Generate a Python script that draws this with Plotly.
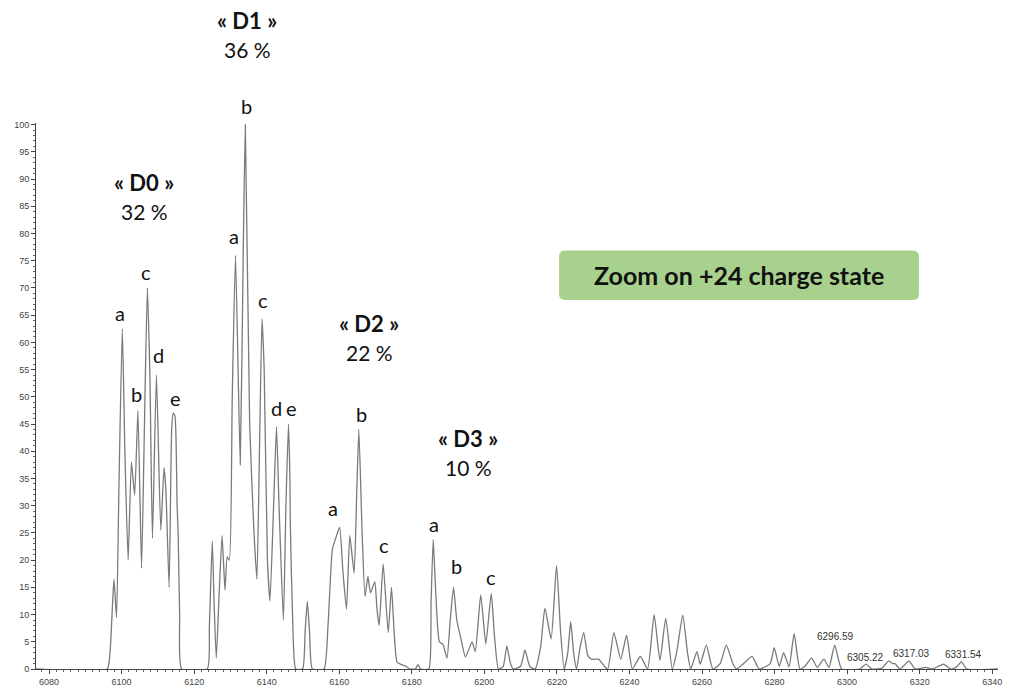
import plotly.graph_objects as go

# Deconvoluted spectrum, +24 charge state (m/z vs relative intensity)
mz = [
    6076.4, 6096.0, 6096.8, 6097.5, 6097.9, 6098.6, 6099.3, 6100.2, 6100.9, 6101.8,
    6102.7, 6103.6, 6104.5, 6105.5, 6106.3, 6107.1, 6107.8, 6108.5, 6109.6, 6110.8,
    6111.7, 6112.2, 6113.1, 6113.8, 6114.2, 6114.7, 6115.3, 6115.6, 6116.0, 6116.6,
    6123.6, 6124.2, 6125.0, 6125.5, 6126.1, 6126.9, 6127.7, 6128.5, 6129.1, 6129.7,
    6130.5, 6131.4, 6132.7, 6133.5, 6134.1, 6135.3, 6136.5, 6137.3, 6138.0, 6138.7,
    6139.3, 6140.2, 6140.9, 6142.0, 6142.7, 6143.4, 6144.6, 6145.3, 6146.0, 6146.4,
    6146.5, 6147.2, 6148.0, 6149.9, 6150.6, 6151.2, 6151.8, 6152.6, 6155.8, 6156.9,
    6158.1, 6159.0, 6160.1, 6161.0, 6162.0, 6162.9, 6164.1, 6164.8, 6165.4, 6166.3,
    6167.1, 6167.9, 6168.6, 6169.8, 6170.4, 6171.0, 6172.1, 6173.5, 6174.4, 6175.2,
    6176.0, 6178.3, 6179.5, 6181.0, 6181.7, 6182.4, 6184.7, 6185.3, 6185.9, 6186.6,
    6187.6, 6188.6, 6189.7, 6190.6, 6191.5, 6192.4, 6193.4, 6194.8, 6196.6, 6197.5,
    6199.0, 6200.4, 6201.9, 6202.8, 6203.9, 6205.2, 6206.2, 6207.2, 6208.0, 6210.0,
    6211.2, 6212.5, 6214.0, 6215.5, 6216.7, 6218.4, 6219.9, 6221.0, 6222.0, 6223.0,
    6223.8, 6224.6, 6225.4, 6226.4, 6227.4, 6228.5, 6229.5, 6231.5, 6232.5, 6234.0,
    6235.7, 6237.6, 6239.2, 6240.8, 6243.0, 6245.0, 6246.8, 6248.4, 6250.0, 6251.8,
    6253.0, 6254.7, 6256.0, 6256.9, 6258.6, 6259.5, 6261.2, 6263.0, 6265.0, 6266.7,
    6268.5, 6269.5, 6271.8, 6273.8, 6275.8, 6278.8, 6279.9, 6281.3, 6282.5, 6284.0,
    6285.4, 6287.0, 6288.5, 6290.2, 6291.8, 6293.6, 6295.0, 6296.59, 6298.5, 6303.5,
    6305.22, 6306.8, 6309.5, 6311.5, 6312.5, 6313.2, 6314.5, 6315.5, 6317.03, 6318.8,
    6321.7, 6323.5, 6326.6, 6328.5, 6330.0, 6331.54, 6333.0, 6341.5,
]
intensity = [
    0, 0, 3, 12, 16.5, 9.5, 35, 62.5, 40, 20,
    38, 32, 47.5, 18.5, 45, 70, 54, 24, 54, 25.5,
    37, 33, 15, 44, 47, 46.5, 30, 24.5, 10, 0,
    0, 8, 23.5, 12, 2, 14, 24.5, 14.5, 20.6, 20,
    50, 76, 37.5, 75, 100, 45, 25, 16.5, 40, 64.3,
    55, 20, 12.5, 32, 44.5, 30, 9, 30, 45, 35,
    27, 8, 0, 0, 7, 12.4, 7, 0, 0, 8,
    22, 24, 26, 18, 11, 24.5, 17.6, 32, 44, 25,
    13.3, 17, 14, 16, 11, 8, 19.3, 6.7, 15, 6,
    1.2, 0.5, 0, 0, 0.8, 0, 0, 12, 23.8, 14,
    5, 4.5, 2, 9, 15, 9, 6, 2.2, 5, 3.2,
    13.6, 4.6, 13.9, 6, 0, 0.5, 4.2, 1, 0, 0.5,
    3.5, 0.5, 0, 4, 11.2, 5.5, 19, 7, 0, 3,
    8.7, 3, 0, 4, 6.7, 2.5, 1.8, 1.8, 1, 0,
    6.7, 1.8, 6.2, 0, 2.3, 0, 10, 1.6, 9.3, 0,
    3, 9.9, 3, 0, 3.2, 0.9, 4.4, 0, 1, 4.4,
    1, 0, 1.2, 2.3, 0, 1, 3.9, 0.5, 3, 0.4,
    6.5, 0, 0.6, 2, 0.3, 1.8, 0.3, 4.4, 0, 0,
    0.9, 0, 0.1, 1.5, 1.0, 1.0, 0, 0.5, 1.5, 0,
    0.3, 0, 0.9, 0, 0.3, 1.3, 0, 0,
]

# Labelled centroid peaks (m/z value printed above each)
centroid_mz = [6296.59, 6305.22, 6317.03, 6331.54]
centroid_label_pos = [(6296.9, 6.0), (6305.0, 2.2), (6317.8, 2.9), (6332.2, 2.7)]

# Deuteration species: name, share, label position (m/z, intensity)
species = ["« D0 »", "« D1 »", "« D2 »", "« D3 »"]
shares = ["32 %", "36 %", "22 %", "10 %"]
species_pos = [(6106.3, 89.4), (6134.6, 119.1), (6168.2, 63.4), (6195.6, 42.4)]

# Peak letters within each species envelope
peak_letters = ["a", "b", "c", "d", "e",
                "a", "b", "c", "d", "e",
                "a", "b", "c",
                "a", "b", "c"]
peak_letter_mz = [6099.5, 6104.1, 6106.6, 6110.2, 6114.9,
                  6131.1, 6134.4, 6139.1, 6142.6, 6146.7,
                  6158.3, 6166.0, 6172.3,
                  6186.0, 6192.3, 6201.9]
peak_letter_y = [65.4, 50.5, 73.0, 57.6, 49.7,
                 79.6, 103.5, 67.8, 47.9, 47.9,
                 29.5, 46.8, 22.8,
                 26.6, 18.9, 16.9]

x_range = [6076.4, 6341.6]
y_range = [0, 100.3]


def py(v):
    """Intensity value -> paper fraction, so labels above the axis top still render."""
    return v / y_range[1]


def label(x, y, text, font):
    return dict(x=x, y=py(y), xref="x", yref="paper", text=text, showarrow=False,
                xanchor="center", yanchor="middle", font=font)


fig = go.Figure()
fig.add_trace(go.Scatter(
    x=mz, y=intensity, mode="lines",
    line=dict(color="#7a7a7a", width=1.3, shape="spline", smoothing=0.5),
    hoverinfo="x+y", showlegend=False,
))

annotations = []
text_font = "Lato, 'Open Sans', sans-serif"
for name, share, (sx, sy) in zip(species, shares, species_pos):
    annotations.append(label(sx, sy, f"<b>{name}</b>",
                             dict(family=text_font, size=22, color="#111")))
    annotations.append(label(sx, sy - 5.3, share,
                             dict(family=text_font, size=21, color="#111")))

for letter, lx, ly in zip(peak_letters, peak_letter_mz, peak_letter_y):
    annotations.append(label(lx, ly, letter, dict(family=text_font, size=20, color="#111")))

for m, (lx, ly) in zip(centroid_mz, centroid_label_pos):
    annotations.append(label(lx, ly, f"{m:.2f}",
                             dict(family="Liberation Sans, Arial", size=10, color="#333")))

# Callout box
bx0, bx1, by0, by1 = 6220.6, 6319.8, 67.8, 76.9
rx, ry = 1.7, 1.1
box_path = (
    f"M {bx0 + rx},{by0} L {bx1 - rx},{by0} Q {bx1},{by0} {bx1},{by0 + ry} "
    f"L {bx1},{by1 - ry} Q {bx1},{by1} {bx1 - rx},{by1} "
    f"L {bx0 + rx},{by1} Q {bx0},{by1} {bx0},{by1 - ry} "
    f"L {bx0},{by0 + ry} Q {bx0},{by0} {bx0 + rx},{by0} Z"
)
shapes = [dict(type="path", path=box_path, xref="x", yref="y",
               fillcolor="#a9d18e", line=dict(width=0), layer="below")]
annotations.append(label((bx0 + bx1) / 2, (by0 + by1) / 2, "<b>Zoom on +24 charge state</b>",
                         dict(family=text_font, size=25, color="#111")))

axis_font = dict(family="Liberation Sans, Arial", size=9, color="#444")
fig.update_layout(
    width=1010, height=695,
    margin=dict(l=36, r=8, t=123, b=21),
    paper_bgcolor="white", plot_bgcolor="white",
    annotations=annotations, shapes=shapes,
    xaxis=dict(range=x_range, tick0=6080, dtick=20, ticks="outside", ticklen=4,
               tickcolor="#444", tickwidth=1, showline=True, linecolor="#444",
               linewidth=1, showgrid=False, zeroline=False, tickfont=axis_font,
               minor=dict(dtick=2, tick0=6080, ticks="outside", ticklen=2,
                          tickcolor="#666", showgrid=False)),
    yaxis=dict(range=y_range, tick0=0, dtick=5, ticks="outside", ticklen=4,
               tickcolor="#444", tickwidth=1, showline=True, linecolor="#444",
               linewidth=1, showgrid=False, zeroline=False, tickfont=axis_font,
               minor=dict(dtick=1, ticks="outside", ticklen=2,
                          tickcolor="#666", showgrid=False)),
)

fig.write_html("out.html")
